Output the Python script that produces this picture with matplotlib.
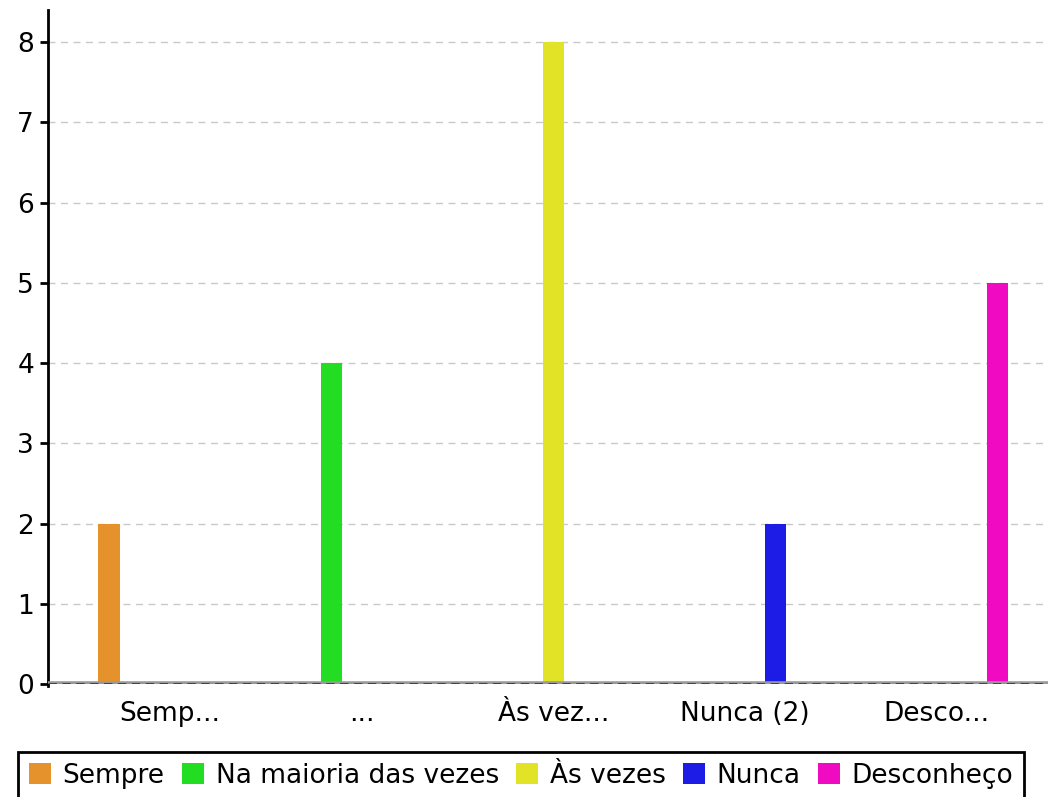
import matplotlib
matplotlib.use("Agg")
import matplotlib.pyplot as plt
import numpy as np

categories = ["Semp...", "...", "Às vez...", "Nunca (2)", "Desco..."]
series_names = ["Sempre", "Na maioria das vezes", "Às vezes", "Nunca", "Desconheço"]
series_values = [2, 4, 8, 2, 5]
colors = ["#E5922C", "#22DD22", "#E2E326", "#1C1CE6", "#F00AC2"]

plt.rcParams["font.family"] = ["DejaVu Sans"]
plt.rcParams["font.size"] = 19

fig = plt.figure(figsize=(10.48, 7.97), dpi=100)
ax = fig.add_axes([48 / 1048, 1 - 684 / 797, 1 - 48 / 1048, (684 - 10) / 797])

x = np.arange(len(categories))
step = 0.159
width = 0.11
n = len(series_names)
for i, (name, val, col) in enumerate(zip(series_names, series_values, colors)):
    vals = np.zeros(len(categories))
    vals[i] = val
    offset = (i - (n - 1) / 2) * step
    ax.bar(x + offset, vals, width=width, color=col, label=name, zorder=2)

ax.set_xlim(-0.636, 4.58)
ax.set_ylim(0, 8.4)
ax.set_yticks(range(0, 9))
ax.set_xticks(x)
ax.set_xticklabels(categories)
ax.tick_params(axis="x", length=0, pad=12)
ax.tick_params(axis="y", length=6, width=2, color="black", pad=4)

ax.yaxis.grid(True, color="#c8c8c8", linestyle=(0, (5, 4)), linewidth=1, zorder=0)
ax.set_axisbelow(True)

# zero line: grey band with dark dashes on top
ax.axhline(0, color="#999999", linewidth=4, zorder=3)
ax.axhline(0, color="#3a3a3a", linewidth=2, linestyle=(0, (3, 2)), zorder=4)

for side in ["top", "right", "bottom"]:
    ax.spines[side].set_visible(False)
ax.spines["left"].set_linewidth(2)
ax.spines["left"].set_bounds(-0.02, 8.4)

leg = fig.legend(
    loc="upper center",
    bbox_to_anchor=(521 / 1048, 1 - 752 / 797),
    ncol=5,
    frameon=True,
    fancybox=False,
    framealpha=1,
    edgecolor="black",
    handlelength=0.83,
    handleheight=0.83,
    handletextpad=0.45,
    columnspacing=0.65,
    borderpad=0.4,
    borderaxespad=0,
)
leg.get_frame().set_linewidth(2)

fig.savefig("out.png", dpi=100)
